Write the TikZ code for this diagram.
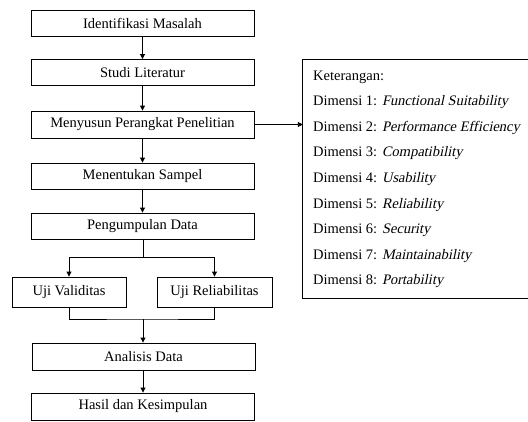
\documentclass[tikz,border=0pt]{standalone}
\usepackage{fontspec}
\setmainfont{Liberation Serif}
\newfontfamily\slantserif{Liberation Serif}[FakeSlant=0.21]
\newcommand{\dimname}[1]{{\slantserif #1}}
\usetikzlibrary{arrows.meta}
\begin{document}
\begin{tikzpicture}[x=1pt,y=-1pt,
  box/.style={draw=black,line width=0.9pt,minimum height=26pt,inner sep=0pt,font=\fontsize{14.5}{16}\selectfont},
  wide/.style={box,minimum width=223pt},
  narrow/.style={box,minimum width=114pt,minimum height=30pt},
  legline/.style={anchor=base west,inner sep=0pt,font=\fontsize{14.5}{16}\selectfont},
  arr/.style={line width=0.9pt,-{Triangle[length=5pt,width=5pt]}},
  ln/.style={line width=0.9pt}]
\useasboundingbox (0,0) rectangle (528,421);
\node[wide] (b1) at (142.5,23.5) {Identifikasi Masalah};
\node[wide] (b2) at (142.5,72.5) {Studi Literatur};
\node[wide,minimum height=27pt] (b3) at (142.5,124.5) {Menyusun Perangkat Penelitian};
\node[wide] (b4) at (142.5,176) {Menentukan Sampel};
\node[wide] (b5) at (142.5,226) {Pengumpulan Data};
\node[narrow] (uv) at (69,292) {Uji Validitas};
\node[narrow,minimum width=115pt] (ur) at (214.5,292) {Uji Reliabilitas};
\node[wide,minimum height=27pt] (b6) at (143.5,356.5) {Analisis Data};
\node[wide,minimum height=27pt] (b7) at (143,406.5) {Hasil dan Kesimpulan};
\node[draw=none,minimum width=230pt,minimum height=238pt,inner sep=0pt] (leg) at (418,179) {};
\draw[ln] (leg.north east) -- (leg.north west) -- (leg.south west) -- (leg.south east);
\node[legline] (l0) at (313,80) {Keterangan:};
\node[legline] (l1) at (313,105.6) {Dimensi 1: \dimname{Functional Suitability}};
\node[legline] (l2) at (313,131.2) {Dimensi 2: \dimname{Performance Efficiency}};
\node[legline] (l3) at (313,156.8) {Dimensi 3: \dimname{Compatibility}};
\node[legline] (l4) at (313,182.4) {Dimensi 4: \dimname{Usability}};
\node[legline] (l5) at (313,208) {Dimensi 5: \dimname{Reliability}};
\node[legline] (l6) at (313,233.6) {Dimensi 6: \dimname{Security}};
\node[legline] (l7) at (313,259.2) {Dimensi 7: \dimname{Maintainability}};
\node[legline] (l8) at (313,284.8) {Dimensi 8: \dimname{Portability}};
\draw[arr] (b1) -- (b2);
\draw[arr] (b2) -- (b3);
\draw[arr] (b3) -- (b4);
\draw[arr] (b4) -- (b5);
\draw[arr] (b3.east) -- (b3.east -| leg.west);
\coordinate (split) at (143,257);
\coordinate (join) at (143,319);
\draw[ln] (b5.south -| split) -- (split);
\draw[arr] (split) -| (uv.north);
\draw[arr] (split) -| (ur.north);
\draw[ln] (uv.south) |- (join) -| (ur.south);
\draw[arr] (join) -- (b6.north -| join);
\draw[arr] (b6.south -| join) -- (b7.north -| join);
\end{tikzpicture}
\end{document}
